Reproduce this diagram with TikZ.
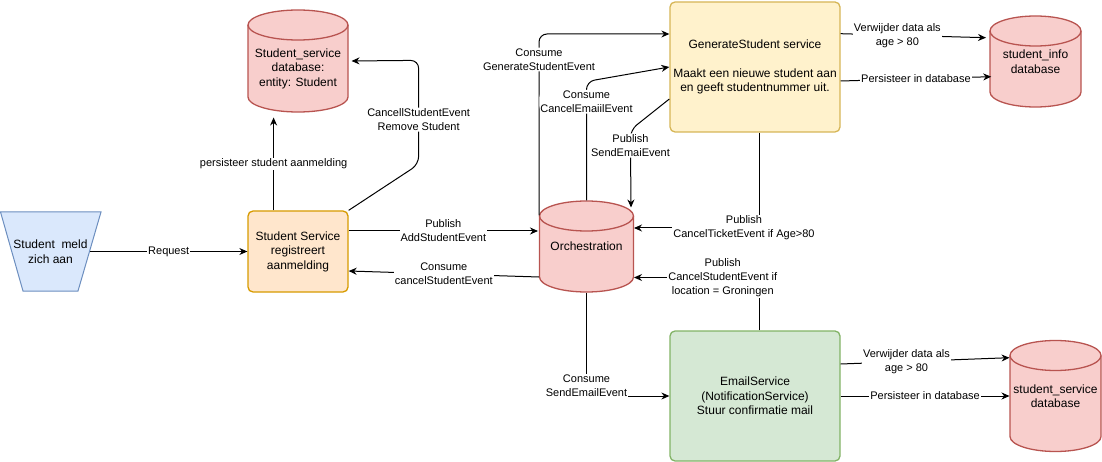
\documentclass[tikz,border=0pt]{standalone}
\usepackage{fontspec}
\setmainfont{Liberation Sans}
\usetikzlibrary{positioning,shapes.geometric,arrows.meta}
\definecolor{dbvul}{HTML}{F8CECC}
\definecolor{dblijn}{HTML}{B85450}
\definecolor{ssvul}{HTML}{FFE6CC}
\definecolor{sslijn}{HTML}{D79B00}
\definecolor{genvul}{HTML}{FFF2CC}
\definecolor{genlijn}{HTML}{D6B656}
\definecolor{mailvul}{HTML}{D5E8D4}
\definecolor{maillijn}{HTML}{82B366}
\definecolor{stvul}{HTML}{DAE8FC}
\definecolor{stlijn}{HTML}{6C8EBF}
% cilinder: midden x, midden y, breedte, hoogte
\newcommand{\dbvorm}[4]{%
  \filldraw[draw=dblijn, fill=dbvul, line width=1.3pt]
    ({#1-#3/2},{#2-#4/2+15}) -- ({#1-#3/2},{#2+#4/2-15})
    arc[start angle=180, end angle=360, x radius={0.5pt*#3}, y radius=15pt]
    -- ({#1+#3/2},{#2-#4/2+15})
    arc[start angle=0, end angle=180, x radius={0.5pt*#3}, y radius=15pt] -- cycle;
  \draw[dblijn, line width=1.3pt] ({#1-#3/2},{#2-#4/2+15})
    arc[start angle=180, end angle=360, x radius={0.5pt*#3}, y radius=15pt];}

\begin{document}
\begin{tikzpicture}[x=1pt, y=-1pt, line width=1pt,
  >={Stealth[length=8pt,width=7pt]},
  box/.style={draw, rounded corners=5pt, line width=1.3pt, align=center,
    inner sep=0pt, font=\fontsize{12}{14.5}\selectfont},
  db/.style={rectangle, align=center, inner sep=0pt,
    font=\fontsize{12}{14.5}\selectfont},
  lbl/.style={fill=white, align=center, inner sep=1pt,
    font=\fontsize{11}{14}\selectfont}]
\useasboundingbox (0,0) rectangle (1102,462);

% Vormen
\filldraw[draw=stlijn, fill=stvul] (0.5,212) -- (101,212) -- (78,291) -- (23,291) -- cycle;
\dbvorm{298}{61}{100}{102}
\dbvorm{586.5}{246.5}{94}{91}
\dbvorm{1035.5}{61.5}{91}{91}
\dbvorm{1055.5}{396}{91}{111}

% Knopen
\node[db, minimum width=78, minimum height=80]
  (student) at (50.5,251.5) {Student\ \ meld\\zich aan};
\node[box, draw=sslijn, fill=ssvul, minimum width=100, minimum height=81]
  (ss) at (298,251.5) {Student Service\\registreert\\aanmelding};
\node[db, minimum width=100, minimum height=87]
  (sdb) at (298,68.5) {Student\_service\\database:\\entity: Student};
\node[db, minimum width=94, minimum height=91]
  (orch) at (586.5,246.5) {Orchestration};
\node[box, draw=genlijn, fill=genvul, minimum width=170, minimum height=130]
  (gen) at (755,67) {GenerateStudent service\\[14.5pt]Maakt een nieuwe student aan\\en geeft studentnummer uit.};
\node[db, minimum width=91, minimum height=91]
  (sidb) at (1035.5,61.5) {student\_info\\database};
\node[box, draw=maillijn, fill=mailvul, minimum width=170, minimum height=130]
  (mail) at (755,396) {EmailService\\(NotificationService)\\Stuur confirmatie mail};
\node[db, minimum width=91, minimum height=111]
  (ssdb) at (1055.5,396) {student\_service\\database};

% Student Service
\draw[->] (student.east) -- (ss.west) node[midway, lbl] {Request};
\draw[->] ([xshift=-24.4pt]ss.north) -- ([xshift=-24.4pt,yshift=-5pt]sdb.south)
  node[midway, lbl] {persisteer student aanmelding};
\draw[->, rounded corners=8pt] (ss.north east) -- ++(70,-46) -- ++(0,-104)
  node[pos=0.43, lbl] {CancellStudentEvent\\Remove Student}
  -- ([xshift=3pt,yshift=7.5pt]sdb.east);
\draw[->] ([yshift=20.5pt]ss.east) -- ([yshift=20.5pt,xshift=-1pt]ss.east -| orch.west)
  node[midway, lbl] {Publish\\AddStudentEvent};
\draw[->] ([yshift=-30.5pt]orch.west) -- ([yshift=-19.5pt]ss.east)
  node[midway, lbl] {Consume\\cancelStudentEvent};

% Orchestration
\draw[->, rounded corners=8pt] ([yshift=31pt]orch.west) |- ([yshift=33pt]gen.west)
  node[pos=0.43, lbl] {Consume\\GenerateStudentEvent};
\draw[->, rounded corners=8pt] (orch.north) -- ++(0,-119)
  node[pos=0.83, lbl] {Consume\\CancelEmaiilEvent} -- (gen.west);
\draw[->, rounded corners=8pt] ([yshift=-32pt]gen.west) -- ++(-39,31)
  -- ([xshift=44.5pt,yshift=-7pt]orch.north) node[pos=0.2, lbl] {Publish\\SendEmaiEvent};
\draw[->] ([xshift=4pt]gen.south) |- ([yshift=18.5pt]orch.east)
  node[pos=0.56, lbl] {Publish\\CancelTicketEvent if Age>80};
\draw[->] ([xshift=4pt]mail.north) |- ([yshift=-31pt]orch.east)
  node[pos=0.645, lbl] {Publish\\CancelStudentEvent if\\location = Groningen};
\draw[->] (orch.south) |- (mail.west)
  node[pos=0.5, yshift=10pt, lbl] {Consume\\SendEmailEvent};

% Opslag
\draw[->] ([yshift=33.3pt]gen.east) -- ([xshift=-3.5pt,yshift=23.8pt]sidb.west)
  node[pos=0.39, lbl] {Verwijder data als\\age > 80};
\draw[->] ([yshift=-14pt]gen.east) -- ([xshift=1.7pt,yshift=-15.2pt]sidb.west)
  node[midway, lbl] {Persisteer in database};
\draw[->] ([yshift=32pt]mail.east) -- ([yshift=38.3pt]ssdb.west)
  node[pos=0.39, lbl] {Verwijder data als\\age > 80};
\draw[->] (mail.east) -- (ssdb.west)
  node[midway, lbl] {Persisteer in database};
\end{tikzpicture}
\end{document}
